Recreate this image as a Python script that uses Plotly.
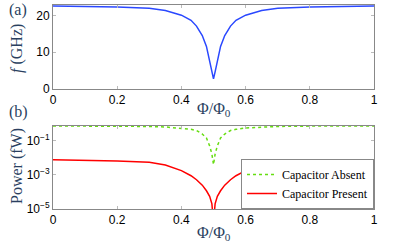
import plotly.graph_objects as go

phi = [0, 0.1, 0.2, 0.3, 0.35, 0.4, 0.43, 0.447, 0.465, 0.478, 0.488, 0.495, 0.5,
       0.505, 0.512, 0.522, 0.535, 0.553, 0.57, 0.6, 0.65, 0.7, 0.8, 0.9, 1.0]
freq_ghz = [22.7, 22.6, 22.45, 22.1, 21.5, 20.2, 18.8, 17.2, 14.6, 11.6, 7.6, 4.6, 2.7,
            4.6, 7.6, 11.6, 14.6, 17.2, 18.8, 20.2, 21.5, 22.1, 22.45, 22.6, 22.7]
power_absent = [0.741, 0.741, 0.724, 0.692, 0.646, 0.562, 0.47, 0.40, 0.25, 0.145, 0.05, 0.0166, 0.004,
                0.0166, 0.05, 0.145, 0.25, 0.40, 0.47, 0.562, 0.646, 0.692, 0.724, 0.741, 0.741]
power_present = [7.76e-3, 7.41e-3, 6.61e-3, 5.50e-3, 3.80e-3, 1.78e-3, 8.9e-4, 5.2e-4, 2.5e-4, 1.17e-4, 5.5e-5, 2.0e-5, 1.6e-6,
                 2.0e-5, 5.5e-5, 1.17e-4, 2.5e-4, 5.2e-4, 8.9e-4, 1.78e-3, 3.80e-3, 5.50e-3, 6.61e-3, 7.41e-3, 7.76e-3]
x_ticks = [0, 0.2, 0.4, 0.6, 0.8, 1]
x_ticktext = ["0", "0.2", "0.4", "0.6", "0.8", "1"]
f_ticks = [0, 10, 20]
p_ticks = [1e-5, 1e-3, 1e-1]
p_ticktext = ["10<sup>\u22125</sup>", "10<sup>\u22123</sup>", "10<sup>\u22121</sup>"]

serif = "Liberation Serif"
sans = "Liberation Sans"

fig = go.Figure()
fig.add_trace(go.Scatter(x=phi, y=freq_ghz, mode="lines", line=dict(color="#2a48ff", width=1.5),
                         showlegend=False, xaxis="x", yaxis="y"))
fig.add_trace(go.Scatter(x=phi, y=power_absent, mode="lines", name="Capacitor Absent",
                         line=dict(color="#66dd11", width=1.5, dash="dot"), xaxis="x2", yaxis="y2"))
fig.add_trace(go.Scatter(x=phi, y=power_present, mode="lines", name="Capacitor Present",
                         line=dict(color="#ff0000", width=1.5), xaxis="x2", yaxis="y2"))

axcommon = dict(showline=True, linecolor="#888888", linewidth=1, mirror="ticks", ticks="inside",
                ticklen=3, tickcolor="#bbbbbb", showgrid=False, zeroline=False, automargin=False,
                tickfont=dict(family=sans, size=12, color="#000000"))

fig.update_layout(
    width=415, height=246,
    margin=dict(l=53, r=41, t=5, b=37, autoexpand=False),
    paper_bgcolor="white", plot_bgcolor="white",
    xaxis=dict(domain=[0, 1], range=[0, 1], tickvals=x_ticks, ticktext=x_ticktext, anchor="y", **axcommon),
    yaxis=dict(domain=[0.59, 1], range=[0, 23], tickvals=f_ticks, anchor="x", **axcommon),
    xaxis2=dict(domain=[0, 1], range=[0, 1], tickvals=x_ticks, ticktext=x_ticktext, anchor="y2", **axcommon),
    yaxis2=dict(domain=[0, 0.408], type="log", range=[-5, -0.12], tickvals=p_ticks, ticktext=p_ticktext,
                anchor="x2", **axcommon),
    legend=dict(x=1, y=0, xanchor="right", yanchor="bottom", bgcolor="white",
                bordercolor="#888888", borderwidth=1,
                font=dict(family=serif, size=12, color="#000000"),
                tracegroupgap=0, itemwidth=30),
    showlegend=True,
)

ann = [
    dict(text="(a)", x=18, y=10, font=dict(family=serif, size=16)),
    dict(text="(b)", x=18, y=112, font=dict(family=serif, size=16)),
    dict(text="\u03a6/\u03a6<sub>0</sub>", x=214, y=110, font=dict(family=serif, size=16)),
    dict(text="\u03a6/\u03a6<sub>0</sub>", x=214, y=233, font=dict(family=serif, size=16)),
    dict(text="<i>f</i> (GHz)", x=17, y=49, font=dict(family=serif, size=16), textangle=-90),
    dict(text="Power (fW)", x=17, y=166, font=dict(family=serif, size=16), textangle=-90),
]
W, H, L, R, T, B = 415, 246, 53, 41, 5, 37
for a in ann:
    px, py = a.pop("x"), a.pop("y")
    fig.add_annotation(x=(px - L) / (W - L - R), y=(H - B - py) / (H - T - B), xref="paper", yref="paper",
                       xanchor="center", yanchor="middle", showarrow=False, **a)

fig.write_html("out.html", config={"displayModeBar": False},
               post_script="document.body.style.margin='0';")
